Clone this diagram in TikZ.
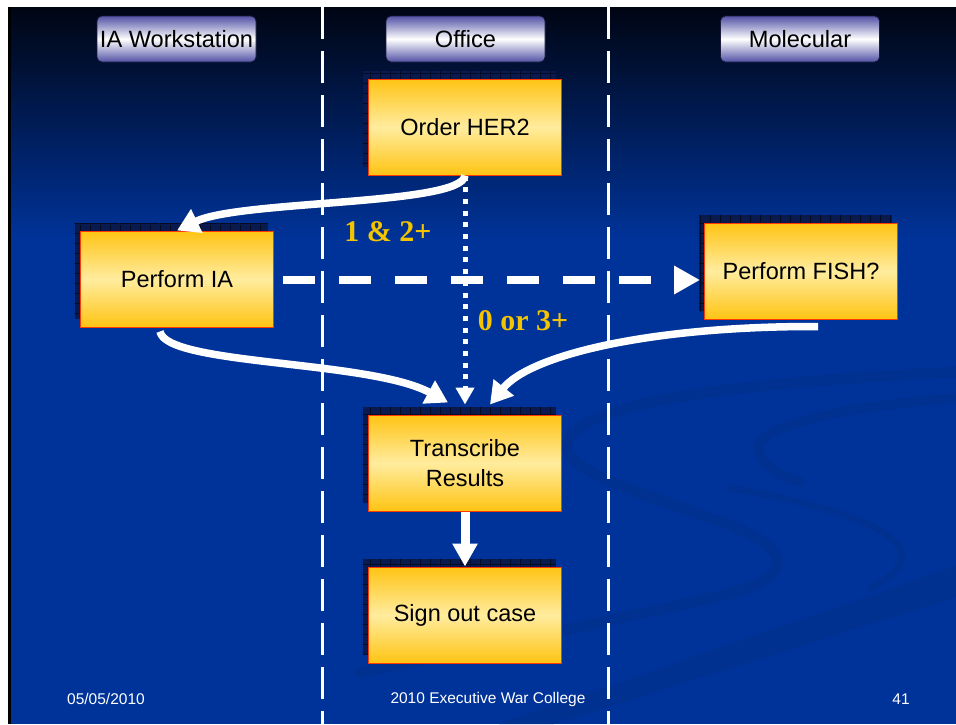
\documentclass[tikz,border=0pt]{standalone}
\usepackage{fontspec}
\setmainfont{Liberation Sans}
\newfontfamily\labelserif{Liberation Serif}
\usetikzlibrary{arrows.meta,calc,shadows,patterns}

\definecolor{bgblue}{HTML}{003399}
\definecolor{bgtop}{HTML}{000513}
\definecolor{swoosh}{HTML}{003090}
\definecolor{boxedge}{HTML}{FFC414}
\definecolor{boxmid}{HTML}{FFEC9E}
\definecolor{boxline}{HTML}{FF3A00}
\definecolor{shadowc}{HTML}{0A1A4E}
\definecolor{btnedge}{HTML}{5252A6}
\definecolor{btnline}{HTML}{1A1A3C}
\definecolor{gold}{HTML}{F5C400}

% fine grid texture for the box shadows
\pgfdeclarepatternformonly{boxgrid}{\pgfqpoint{0pt}{0pt}}{\pgfqpoint{10pt}{10pt}}{\pgfqpoint{10pt}{10pt}}{%
  \pgfpathrectangle{\pgfqpoint{0pt}{0pt}}{\pgfqpoint{10pt}{0.7pt}}%
  \pgfpathrectangle{\pgfqpoint{0pt}{0pt}}{\pgfqpoint{0.7pt}{10pt}}%
  \pgfusepath{fill}}

\begin{document}
\begin{tikzpicture}[x=1pt,y=-1pt,
  stepbox/.style={draw=boxline, line width=1pt,
    top color=boxedge, bottom color=boxedge, middle color=boxmid,
    minimum width=193pt, minimum height=96pt, inner sep=0pt,
    align=center, text=black, font=\fontsize{23.5}{30}\selectfont,
    general shadow={shadow xshift=-6pt, shadow yshift=8pt, fill=shadowc},
    general shadow={shadow xshift=-6pt, shadow yshift=8pt,
      pattern=boxgrid, pattern color=black!80!shadowc}},
  lanehead/.style={draw=btnline, line width=0.7pt, rounded corners=5pt,
    top color=btnedge, bottom color=btnedge, middle color=white,
    minimum width=159pt, minimum height=46pt, inner sep=0pt,
    text=black, font=\fontsize{23.6}{27}\selectfont},
  lane/.style={white, line width=3pt, dash pattern=on 32pt off 12pt},
  flow/.style={white, line width=7.5pt,
    -{Triangle[length=22pt,width=25pt]}},
  cond/.style={font=\labelserif\bfseries\fontsize{30}{34}\selectfont, text=gold},
  foot/.style={font=\fontsize{15.5}{18}\selectfont, text=white, inner sep=0pt}]

\useasboundingbox (0,0) rectangle (956,724);

% slide background
\fill[white] (0,0) rectangle (956,724);
\fill[bgblue] (10,7) rectangle (956,724);
\shade[top color=bgtop, bottom color=bgblue] (10,7) rectangle (956,240);
\fill[black] (8,7) rectangle (11,724);

% decorative swooshes
\begin{scope}
  \clip (11,7) rectangle (956,724);
  \draw[swoosh, line width=11pt, line cap=round]
    (956,372) .. controls (760,382) and (590,398) .. (568,440)
    .. controls (556,470) and (640,492) .. (730,525)
    .. controls (800,552) and (790,580) .. (720,596)
    .. controls (640,614) and (520,640) .. (360,672);
  \draw[swoosh, line width=10pt, line cap=round]
    (956,398) .. controls (830,408) and (745,428) .. (760,455)
    .. controls (768,470) and (785,478) .. (800,482);
  \draw[swoosh, line width=7pt, line cap=round]
    (730,488) .. controls (870,512) and (950,548) .. (870,588);
  \fill[swoosh] (499,724) -- (956,566) -- (956,597) -- (554,724) -- cycle;
\end{scope}

% lane separators
\draw[lane] (322,7) -- (322,724);
\draw[lane] (608,7) -- (608,724);

% lane headings
\node[lanehead] (h1) at (176.5,39) {IA Workstation};
\node[lanehead] (h2) at (465.5,39) {Office};
\node[lanehead] (h3) at (800,39) {Molecular};

% process steps
\node[stepbox] (her)  at (465,127) {Order HER2};
\node[stepbox] (ia)   at (177,279) {Perform IA};
\node[stepbox] (fish) at (801,271) {Perform FISH?};
\node[stepbox] (tr)   at (465,463) {Transcribe\\Results};
\node[stepbox] (so)   at (465,615) {Sign out case};

% connectors
\draw[flow] (her.south) .. controls +(-3,30) and (240,200) .. (ia.north);
\draw[white, line width=5pt, dash pattern=on 5pt off 6.7pt,
      -{Triangle[length=17pt,width=18pt]}]
  (her.south) -- ($(tr.north)+(0,-10)$);
\draw[white, line width=8pt, dash pattern=on 32pt off 24pt,
      -{Triangle[length=26pt,width=27pt]}]
  ($(ia.east)+(9,1)$) -- ($(fish.west)+(-4,9)$);
\draw[flow] ($(ia.south)+(-17,4)$) .. controls +(6,34) and (370,360) .. ($(tr.north)+(-17,-12)$);
\draw[flow] ($(fish.south)+(17,7)$) .. controls (650,326) and (530,355) .. ($(tr.north)+(25,-10)$);
\draw[white, line width=9pt, -{Triangle[length=23pt,width=24pt]}]
  (tr.south) -- (so.north);

% condition labels
\node[cond] (c1) at (388,232) {1 \& 2+};
\node[cond] (c2) at (523,321) {0 or 3+};

% footer
\node[foot, anchor=west] (date) at (67,699) {05/05/2010};
\node[foot] (conf) at (488,699) {2010 Executive War College};
\node[foot] (page) at (901,699) {41};

\end{tikzpicture}
\end{document}
